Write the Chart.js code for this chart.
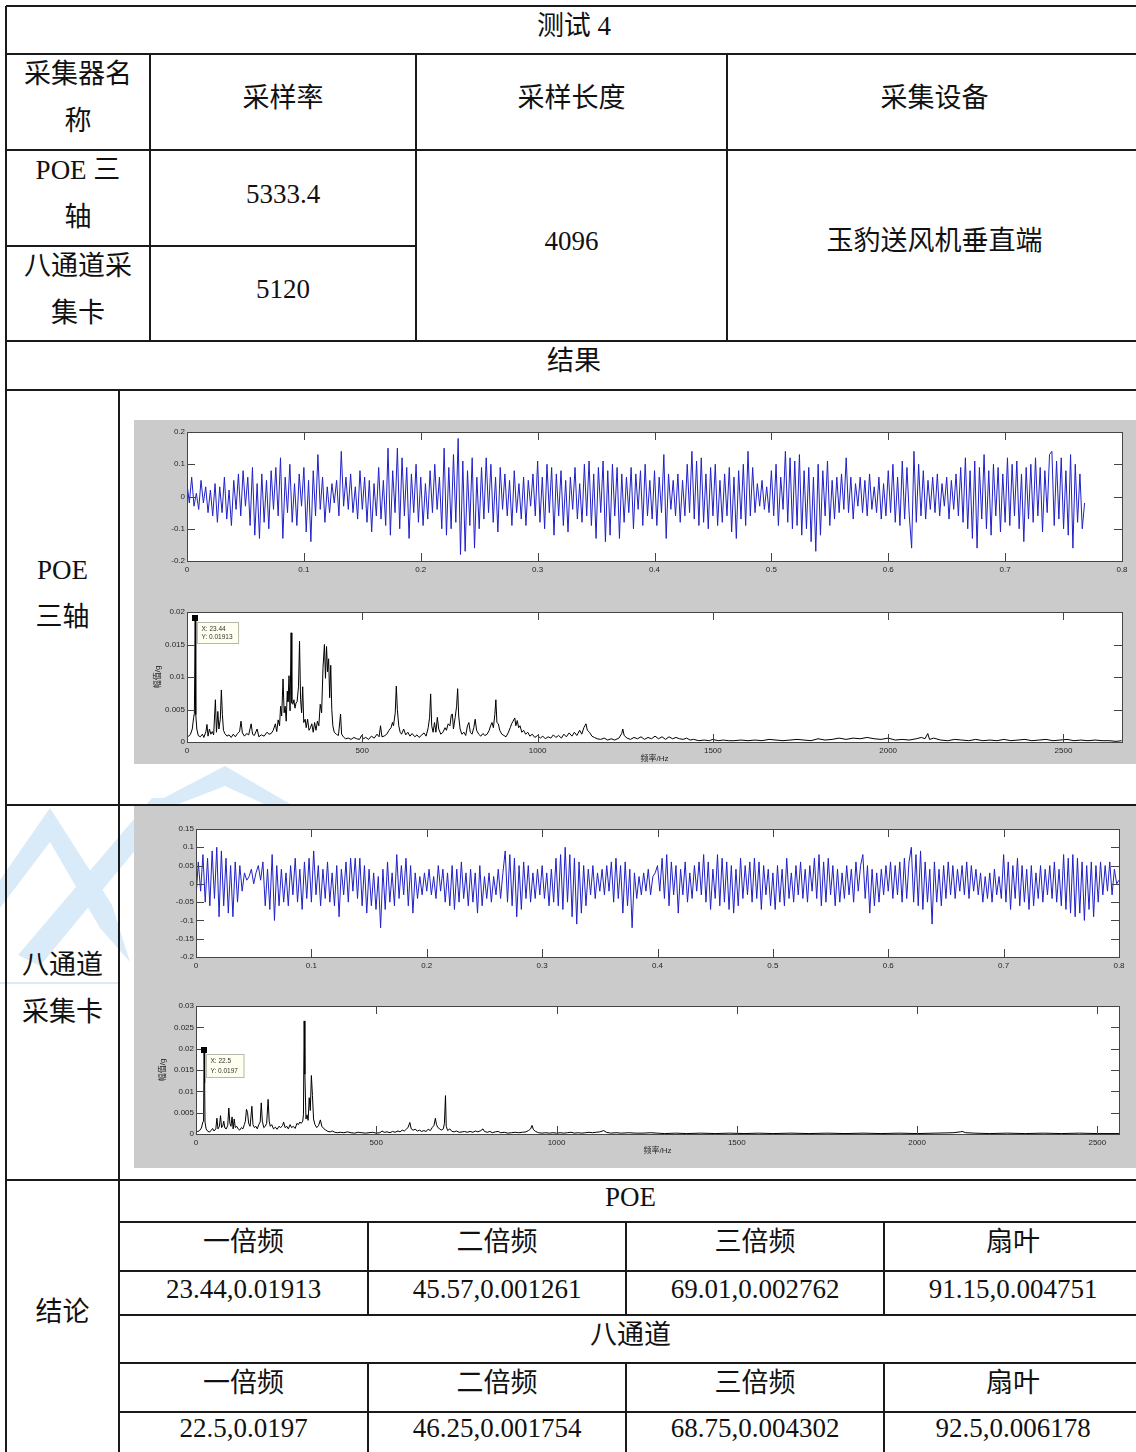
<!DOCTYPE html>
<html lang="zh-CN">
<head>
<meta charset="utf-8">
<title>测试 4</title>
<script src="https://cdn.jsdelivr.net/npm/chart.js@4.4.1/dist/chart.umd.min.js"></script>
<style>
  html, body { margin: 0; padding: 0; background: #fff; }
  body { width: 1136px; height: 1452px; overflow: hidden; position: relative;
         font-family: "Liberation Serif", "Noto Sans CJK SC", serif; color: #111; }
  .h, .v { position: absolute; background: #1a1a1a; z-index: 3; }
  .t { position: absolute; display: flex; align-items: center; justify-content: center;
       text-align: center; font-size: 27px; line-height: 47px; box-sizing: border-box;
       padding-bottom: 8px; z-index: 2; white-space: nowrap; }
  .panel { position: absolute; background: #cbcbcb; z-index: 1; }
  canvas { position: absolute; z-index: 2; }
  #mark { position: absolute; left: 0; top: 0; z-index: 0; }
</style>
</head>
<body>

<svg id="mark" width="1136" height="1452" viewBox="0 0 1136 1452">
  <g fill="#d9ebf9">
    <polygon points="0,880 50,808 112,905 130,962 100,928 50,842 0,908"/>
    <polygon points="18,955 152,798 178,798 40,966"/>
    <polygon points="150,805 225,766 292,805 266,805 225,786 176,805"/>
    <rect x="0" y="982" width="119" height="2"/>
  </g>
</svg>

<div class="panel" style="left:134px;top:420px;width:1010px;height:344px"></div>
<div class="panel" style="left:134px;top:806px;width:1010px;height:362px"></div>

<canvas id="poeWave" width="1002" height="172" style="left:134px;top:420px"></canvas>
<canvas id="poeSpec" width="1002" height="172" style="left:134px;top:592px"></canvas>
<canvas id="chWave" width="1002" height="180" style="left:134px;top:806px"></canvas>
<canvas id="chSpec" width="1002" height="182" style="left:134px;top:986px"></canvas>

<script>
// ---- data ----
const timeTicks = [0, 0.1, 0.2, 0.3, 0.4, 0.5, 0.6, 0.7, 0.8];
const freqTicks = [0, 500, 1000, 1500, 2000, 2500];
const poeWaveTicks = [-0.2, -0.1, 0, 0.1, 0.2];
const poeSpecTicks = [0, 0.005, 0.01, 0.015, 0.02];
const chWaveTicks = [-0.2, -0.15, -0.1, -0.05, 0, 0.05, 0.1, 0.15];
const chSpecTicks = [0, 0.005, 0.01, 0.015, 0.02, 0.025, 0.03];

const poeWaveStep = 1 / 500;   // s between plotted samples
const poeWave = [
  .04,-.02,.06,-.03,.01,-.04,.05,-.02,.03,-.05,
  .02,-.06,.04,-.08,.03,-.05,.06,-.07,.02,-.09,
  .05,-.04,.07,-.06,.08,-.03,.06,-.09,.09,-.12,
  .04,-.13,.07,-.08,.05,-.10,.08,-.04,.09,-.06,
  .12,-.13,.06,-.05,.10,-.08,.04,-.09,.07,-.03,
  .09,-.11,.05,-.14,.08,-.06,.13,-.04,.06,-.08,
  .03,-.05,.04,-.02,.05,-.06,.14,-.03,.06,-.04,
  .07,-.05,.03,-.07,.08,-.04,.06,-.08,.05,-.11,
  .04,-.06,.09,-.07,.05,-.09,.15,-.12,.08,-.05,
  .15,-.10,.12,-.06,.09,-.13,.07,-.05,.10,-.08,
  .06,-.09,.04,-.07,.08,-.05,.10,-.04,.06,-.10,
  .15,-.12,.09,-.10,.13,-.08,.18,-.18,.11,-.17,
  .08,-.09,.12,-.16,.06,-.10,.09,-.07,.12,-.05,
  .10,-.08,.06,-.11,.09,-.04,.07,-.06,.05,-.09,
  .08,-.05,.04,-.07,.06,-.09,.05,-.03,.07,-.06,
  .11,-.08,.06,-.10,.10,-.05,.09,-.12,.07,-.06,
  .08,-.09,.05,-.11,.06,-.04,.09,-.07,.04,-.08,
  .10,-.06,.11,-.09,.07,-.13,.09,-.05,.11,-.14,
  .08,-.12,.10,-.06,.09,-.13,.07,-.08,.06,-.05,
  .09,-.10,.07,-.04,.08,-.09,.10,-.06,.05,-.07,
  .08,-.09,.06,-.05,.13,-.13,.07,-.04,.05,-.06,
  .07,-.08,.05,-.06,.10,-.05,.14,-.07,.11,-.09,
  .12,-.08,.07,-.10,.09,-.06,.10,-.09,.05,-.08,
  .07,-.06,.09,-.11,.06,-.13,.08,-.07,.10,-.09,
  .14,-.06,.09,-.05,.04,-.03,.05,-.04,.03,-.05,
  .08,-.06,.10,-.09,.06,-.04,.14,-.08,.12,-.10,
  .11,-.09,.13,-.12,.08,-.10,.09,-.14,.06,-.17,
  .10,-.12,.08,-.06,.11,-.09,.05,-.07,.06,-.05,
  .07,-.04,.12,-.05,.06,-.07,.04,-.03,.06,-.05,
  .05,-.06,.07,-.04,.03,-.05,.06,-.07,.04,-.06,
  .08,-.05,.10,-.08,.06,-.09,.11,-.07,.09,-.06,
  -.16,.14,-.08,.10,-.06,.08,-.07,.05,-.04,.06,
  -.05,.07,-.06,.04,-.03,.06,-.07,.05,-.04,.07,
  -.06,.09,-.08,.12,-.10,.08,-.13,.11,-.16,.09,
  -.07,.13,-.10,.08,-.12,.10,-.06,.09,-.11,.07,
  -.08,.12,-.09,.10,-.06,.11,-.10,.07,-.14,.09,
  -.07,.10,-.08,.12,-.06,.09,-.11,.08,-.05,.13,
  .14,-.09,.11,-.07,.12,-.10,.08,-.12,.13,-.16,
  .10,-.08,.07,-.10,-.02
];

const chWaveStep = 1 / 500;
const chWave = [
  -.04,.06,-.02,.08,-.05,.07,-.06,.09,-.04,.10,
  -.09,.09,-.06,.07,-.08,.05,-.09,.06,-.05,.05,
  -.02,.03,.01,.02,.04,.00,.03,.05,.01,.06,
  -.06,.04,-.07,.08,-.10,.05,-.06,.04,-.05,.03,
  -.06,.05,-.03,.07,-.05,.04,-.07,.06,-.04,.07,
  -.05,.09,-.03,.05,-.06,.04,-.04,.06,-.05,.03,
  -.06,.05,-.09,.04,-.03,.06,-.05,.07,-.02,.07,
  -.04,.07,-.06,.05,-.08,.04,-.06,.03,-.07,.02,
  -.12,.04,-.07,.06,-.05,.03,-.06,.08,-.04,.05,
  -.03,.07,-.06,.05,-.08,.03,-.04,.02,-.03,.03,
  -.02,.04,-.03,.02,-.04,.05,-.02,.04,-.05,.03,
  -.06,.05,-.07,.04,-.05,.06,-.04,.03,-.06,.04,
  -.05,.03,-.08,.05,-.06,.02,-.04,.03,-.05,.02,
  -.03,.04,-.04,.03,.09,-.05,.08,-.06,.07,-.09,
  .05,-.07,.06,-.04,.05,-.05,.03,-.04,.04,-.03,
  .05,-.04,.03,-.06,.04,-.05,.07,-.06,.08,-.07,
  .10,-.05,.08,-.09,.07,-.11,.06,-.08,.05,-.06,
  .04,-.03,.05,-.04,.03,-.02,.04,-.03,.05,-.02,
  .06,-.05,.07,-.04,.05,-.08,.06,-.06,.04,-.12,
  .03,-.04,.02,-.03,.03,-.02,.04,-.03,.02,.03,
  .05,-.02,.07,-.04,.08,-.06,.06,-.03,.05,-.08,
  .04,-.03,.06,-.05,.03,-.04,.05,-.02,.06,-.03,
  .08,-.05,.06,-.07,.04,-.04,.08,-.06,.07,-.05,
  .06,-.07,.05,-.08,.04,-.06,.07,-.04,.05,-.03,
  .06,-.05,.07,-.04,.06,-.07,.05,-.03,.04,-.06,
  .03,-.07,.05,-.05,.04,-.06,.07,-.04,.03,-.05,
  .05,-.03,.06,-.04,.04,-.05,.05,-.02,.07,-.04,
  .08,-.06,.06,-.05,.07,-.03,.05,-.06,.04,-.05,
  .03,-.04,.05,-.03,.04,-.05,.06,-.02,.05,.08,
  -.04,.05,-.08,.04,-.06,.03,-.05,.04,-.03,.05,
  -.02,.06,-.04,.05,-.03,.06,-.05,.07,-.04,.06,
  .10,-.05,.08,-.06,.09,-.07,.06,-.05,.04,-.11,
  .06,-.05,.04,-.06,.05,-.04,.06,-.03,.05,-.04,
  .04,-.02,.05,-.03,.06,-.04,.05,-.02,.04,-.03,
  .03,-.05,.02,-.04,.03,-.05,.04,-.03,.02,-.04,
  .08,-.05,.06,-.07,.05,-.04,.07,-.06,.05,-.05,
  .04,-.07,.05,-.06,.03,-.04,.05,-.05,.04,-.03,
  .05,-.04,.06,-.05,.04,-.06,.08,-.07,.07,-.08,
  .08,-.09,.07,-.08,.06,-.10,.05,-.07,.06,-.09,
  .05,-.05,.06,-.03,.05,-.02,.06,-.03,.04,.00,
  .01
];

// [frequency Hz, amplitude g]
const poeSpectrum = [
  [0,.0008],[5,.0009],[10,.0012],[15,.002],[19,.0038],[21,.0044],[23.44,.01913],[25,.0042],[28,.002],
  [32,.001],[38,.0008],[44,.0012],[48,.0007],[54,.0016],[57,.0027],[60,.0009],[64,.002],[68,.0012],
  [72,.0016],[76,.0011],[81,.0065],[84,.0015],[88,.0047],[91,.002],[95,.0035],[98,.008],[101,.0042],
  [104,.0018],[108,.0013],[114,.0009],[120,.0011],[126,.0007],[132,.0012],[138,.0008],[144,.0013],
  [150,.0016],[154,.0032],[158,.0014],[164,.0009],[170,.0013],[176,.0011],[183,.0028],[187,.0012],
  [192,.001],[200,.002],[205,.0008],[212,.0011],[220,.0009],[228,.0015],[234,.0012],[240,.0013],
  [246,.0018],[252,.0028],[256,.0016],[260,.0034],[264,.0025],[267,.0055],[270,.004],[274,.0097],
  [277,.0045],[280,.0055],[283,.0032],[286,.0078],[288,.0062],[291,.0102],[294,.0048],[297,.0168],
  [299,.006],[302,.0058],[305,.0065],[308,.0052],[311,.006],[314,.0062],[318,.0085],[321,.0155],
  [324,.0065],[327,.0045],[330,.0085],[333,.003],[337,.0035],[340,.0022],[344,.0035],[348,.0018],
  [352,.0022],[356,.0028],[360,.0015],[364,.003],[368,.0018],[372,.0032],[376,.0025],[380,.0058],
  [384,.0045],[388,.0115],[392,.015],[395,.0098],[398,.0147],[401,.0108],[404,.0128],[407,.0068],
  [410,.0118],[413,.005],[416,.0025],[420,.0015],[426,.0012],[432,.001],[438,.0043],[441,.0012],
  [446,.0008],[452,.0005],[460,.0006],[468,.0004],[476,.0007],[484,.0005],[492,.0004],[498,.001],
  [503,.0005],[510,.0007],[518,.0004],[526,.0009],[534,.0006],[542,.0012],[548,.0008],[552,.0025],
  [556,.0008],[562,.0009],[570,.0012],[576,.0018],[582,.0022],[586,.003],[589,.0025],[594,.0045],
  [597,.0086],[600,.005],[604,.0025],[608,.0015],[612,.0012],[618,.002],[624,.0011],[630,.0015],
  [636,.0009],[642,.0013],[650,.0008],[656,.0011],[662,.0007],[668,.001],[676,.0014],[682,.0009],
  [688,.0022],[692,.0038],[695,.0074],[698,.0025],[702,.0015],[706,.003],[710,.0015],[714,.0038],
  [718,.002],[724,.0012],[730,.0015],[736,.0022],[740,.0018],[745,.0028],[750,.0025],[754,.0042],
  [757,.0043],[760,.002],[765,.0038],[769,.0055],[772,.0082],[775,.004],[779,.002],[784,.0012],
  [790,.0015],[795,.001],[800,.0025],[804,.003],[808,.0015],[813,.0012],[818,.0022],[822,.0035],
  [826,.0018],[832,.0012],[838,.0009],[844,.0013],[850,.001],[856,.0012],[862,.0018],[866,.0025],
  [870,.003],[874,.0022],[878,.0042],[881,.0065],[884,.003],[888,.0028],[892,.0018],[898,.0012],
  [904,.001],[910,.0008],[916,.0014],[922,.0022],[926,.0028],[930,.0032],[935,.0037],[938,.0025],
  [942,.0033],[946,.0022],[950,.0025],[955,.0015],[960,.0018],[966,.0012],[972,.0015],[978,.0009],
  [985,.0012],[992,.0007],[1000,.001],[1008,.0006],[1015,.0009],[1022,.0005],[1030,.0008],
  [1038,.0006],[1045,.0011],[1052,.0007],[1060,.001],[1068,.0006],[1075,.0012],[1082,.0008],
  [1090,.0014],[1098,.0009],[1105,.0015],[1112,.001],[1120,.0018],[1126,.0012],[1132,.0022],
  [1138,.0028],[1142,.0018],[1148,.0015],[1155,.0009],[1162,.0007],[1170,.0005],[1180,.0004],
  [1190,.0006],[1200,.0003],[1210,.0005],[1220,.0003],[1232,.0006],[1240,.0013],[1243,.002],
  [1247,.001],[1255,.0006],[1265,.0004],[1275,.0007],[1285,.0005],[1295,.0008],[1305,.0004],
  [1315,.0007],[1325,.0005],[1335,.0009],[1345,.0005],[1355,.0008],[1365,.0004],[1375,.0008],
  [1385,.0005],[1395,.0007],[1405,.0005],[1415,.0004],[1425,.0006],[1435,.0003],[1445,.0004],
  [1460,.0002],[1475,.0003],[1490,.0002],[1500,.0004],[1515,.0002],[1530,.0003],[1545,.0002],
  [1560,.0002],[1580,.0003],[1600,.0002],[1620,.0003],[1640,.0002],[1660,.0004],[1680,.0003],
  [1700,.0002],[1720,.0003],[1740,.0004],[1760,.0003],[1780,.0002],[1800,.0005],[1820,.0003],
  [1840,.0004],[1860,.0006],[1880,.0004],[1900,.0006],[1920,.0005],[1940,.0007],[1960,.0005],
  [1980,.0004],[2000,.0006],[2020,.0003],[2040,.0004],[2060,.0003],[2080,.0005],[2095,.0007],
  [2105,.0005],[2113,.0013],[2118,.0004],[2130,.0006],[2150,.0003],[2170,.0002],[2190,.0004],
  [2210,.0003],[2230,.0002],[2250,.0004],[2270,.0002],[2290,.0003],[2310,.0002],[2330,.0004],
  [2350,.0002],[2370,.0003],[2390,.0004],[2410,.0002],[2430,.0003],[2450,.0004],[2470,.0002],
  [2490,.0003],[2510,.0004],[2530,.0002],[2550,.0003],[2570,.0002],[2590,.0003],[2610,.0002],
  [2630,.0002],[2650,.0001],[2666,.0002]
];

const chSpectrum = [
  [0,.0006],[5,.0006],[10,.0008],[15,.0014],[19,.0028],[21,.003],[22.5,.0197],[24,.012],[25,.0028],
  [28,.0012],[33,.0006],[38,.0005],[42,.0008],[46,.0013],[50,.0007],[55,.0012],[58,.0037],[61,.0012],
  [65,.0018],[68,.0043],[71,.0015],[74,.0018],[77,.003],[80,.0014],[84,.0012],[88,.002],[91,.0061],
  [94,.0025],[97,.0018],[100,.004],[103,.0012],[106,.0035],[109,.0015],[113,.0018],[117,.0012],
  [121,.0009],[126,.0015],[130,.0012],[134,.0022],[137,.003],[140,.0058],[143,.005],[146,.0025],
  [150,.0018],[155,.0065],[158,.0022],[162,.0015],[166,.0018],[170,.0012],[174,.0022],[178,.0028],
  [181,.0073],[184,.003],[188,.0015],[192,.0018],[196,.0025],[200,.0081],[203,.003],[206,.0018],
  [210,.0022],[215,.0012],[220,.0016],[225,.0011],[230,.0018],[235,.0015],[240,.002],[243,.0028],
  [247,.0015],[252,.0018],[256,.0012],[261,.0022],[265,.0015],[270,.0018],[275,.0013],[280,.0025],
  [284,.0022],[288,.0028],[292,.0025],[296,.003],[298,.0045],[300,.0265],[302,.014],[305,.0035],
  [308,.0045],[311,.0032],[314,.0085],[317,.0055],[320,.0137],[323,.009],[326,.0035],[330,.0022],
  [335,.0015],[340,.002],[345,.0033],[349,.0018],[354,.0013],[360,.0009],[366,.0006],[372,.0005],
  [378,.0007],[385,.0004],[392,.0003],[400,.0004],[410,.0003],[420,.0005],[430,.0003],[440,.0002],
  [450,.0004],[460,.0003],[470,.0002],[480,.0003],[490,.0004],[500,.0002],[510,.0003],[516,.0007],
  [522,.0004],[530,.0005],[538,.0003],[545,.0006],[552,.0004],[560,.0007],[566,.0005],[572,.0009],
  [578,.0007],[584,.0012],[588,.0015],[593,.0027],[597,.0012],[602,.0009],[608,.0011],[614,.0007],
  [620,.0009],[626,.0006],[632,.0008],[638,.0006],[644,.0011],[650,.0008],[655,.0015],[660,.002],
  [664,.0037],[667,.0022],[671,.0015],[676,.0012],[680,.0009],[686,.0012],[689,.0025],[692,.009],
  [694,.0018],[698,.0008],[704,.0012],[710,.0006],[716,.0005],[722,.0007],[730,.0004],[738,.0005],
  [745,.0006],[752,.0004],[760,.0006],[768,.0004],[775,.0007],[782,.0005],[790,.0008],[796,.0012],
  [800,.0006],[808,.0004],[815,.0006],[822,.0003],[830,.0005],[838,.0006],[845,.0003],[855,.0004],
  [865,.0002],[875,.0003],[885,.0004],[895,.0003],[905,.0004],[915,.0005],[922,.0008],[928,.0012],
  [932,.002],[936,.001],[942,.0006],[950,.0003],[960,.0002],[970,.0003],[980,.0002],[990,.0003],
  [1000,.0002],[1010,.0003],[1020,.0002],[1030,.0003],[1040,.0004],[1050,.0002],[1060,.0003],
  [1070,.0002],[1080,.0003],[1090,.0004],[1100,.0003],[1110,.0004],[1120,.0005],[1131,.0008],
  [1138,.0004],[1150,.0002],[1165,.0003],[1180,.0002],[1200,.0003],[1220,.0002],[1240,.0002],
  [1260,.0003],[1280,.0002],[1300,.0001],[1330,.0002],[1360,.0001],[1400,.0002],[1440,.0001],
  [1480,.0002],[1520,.0001],[1560,.0002],[1600,.0001],[1650,.0002],[1700,.0001],[1750,.0002],
  [1800,.0001],[1850,.0002],[1900,.0001],[1950,.0002],[2000,.0001],[2050,.0002],[2100,.0003],
  [2120,.0005],[2125,.0006],[2135,.0003],[2160,.0002],[2200,.0001],[2250,.0002],[2300,.0001],
  [2350,.0002],[2400,.0001],[2450,.0002],[2500,.0001],[2560,.0001]
];

const poeTip = [23.44, 0.01913];
const chTip = [22.5, 0.0197];

const resultHeads = ['一倍频', '二倍频', '三倍频', '扇叶'];
const poeResults = ['23.44,0.01913', '45.57,0.001261', '69.01,0.002762', '91.15,0.004751'];
const chResults = ['22.5,0.0197', '46.25,0.001754', '68.75,0.004302', '92.5,0.006178'];

// ---- table frame ----
const R = 1142; // right edge, just past the viewport
function hline(x1, x2, y) {
  const d = document.createElement('div');
  d.className = 'h';
  d.style.cssText = `left:${x1}px;top:${y - 0.75}px;width:${x2 - x1}px;height:1.5px`;
  document.body.appendChild(d);
}
function vline(x, y1, y2) {
  const d = document.createElement('div');
  d.className = 'v';
  d.style.cssText = `left:${x - 0.75}px;top:${y1}px;width:1.5px;height:${y2 - y1}px`;
  document.body.appendChild(d);
}
function text(x1, y1, x2, y2, html) {
  const d = document.createElement('div');
  d.className = 't';
  d.style.cssText = `left:${x1}px;top:${y1}px;width:${x2 - x1}px;height:${y2 - y1}px`;
  d.innerHTML = html;
  document.body.appendChild(d);
}

[6, 54, 150, 341, 390, 805, 1180].forEach(y => hline(6, R, y));
hline(6, 416, 246);
[1222, 1271, 1315, 1363, 1412].forEach(y => hline(119, R, y));
vline(6, 6, 1460);
[150, 416, 727].forEach(x => vline(x, 54, 341));
vline(119, 390, 1460);
[368, 626, 884].forEach(x => { vline(x, 1222, 1315); vline(x, 1363, 1460); });

text(6, 6, R, 54, '测试 4');
text(6, 54, 150, 150, '采集器名<br>称');
text(150, 54, 416, 150, '采样率');
text(416, 54, 727, 150, '采样长度');
text(727, 54, R, 150, '采集设备');
text(6, 150, 150, 246, 'POE 三<br>轴');
text(6, 246, 150, 341, '八通道采<br>集卡');
text(150, 150, 416, 246, '5333.4');
text(150, 246, 416, 341, '5120');
text(416, 150, 727, 341, '4096');
text(727, 150, R, 341, '玉豹送风机垂直端');
text(6, 341, R, 390, '结果');
text(6, 390, 119, 805, 'POE<br>三轴');
text(6, 805, 119, 1180, '八通道<br>采集卡');
text(6, 1180, 119, 1452, '结论');
text(119, 1180, R, 1222, 'POE');
text(119, 1315, R, 1363, '八通道');
const cols = [119, 368, 626, 884, R];
resultHeads.forEach((h, i) => {
  text(cols[i], 1222, cols[i + 1], 1271, h);
  text(cols[i], 1271, cols[i + 1], 1315, poeResults[i]);
  text(cols[i], 1363, cols[i + 1], 1412, h);
  text(cols[i], 1412, cols[i + 1], 1452, chResults[i]);
});

// ---- charts ----
Chart.defaults.font.family = '"Liberation Sans", "Noto Sans CJK SC", sans-serif';
Chart.defaults.font.size = 8;
Chart.defaults.color = '#262626';

// white axes, box and MATLAB-like inward ticks on all four sides
const matlabAxes = {
  id: 'matlabAxes',
  beforeDraw(chart) {
    const { ctx, chartArea: a } = chart;
    ctx.save();
    ctx.fillStyle = '#fff';
    ctx.fillRect(a.left, a.top, a.right - a.left, a.bottom - a.top);
    ctx.restore();
  },
  afterDatasetsDraw(chart) {
    const { ctx, chartArea: a, scales: { x, y } } = chart;
    const len = 8;
    ctx.save();
    ctx.strokeStyle = '#454545';
    ctx.lineWidth = 1;
    ctx.beginPath();
    x.ticks.forEach(t => {
      const px = Math.round(x.getPixelForValue(t.value)) + 0.5;
      ctx.moveTo(px, a.bottom); ctx.lineTo(px, a.bottom - len);
      ctx.moveTo(px, a.top); ctx.lineTo(px, a.top + len);
    });
    y.ticks.forEach(t => {
      const py = Math.round(y.getPixelForValue(t.value)) + 0.5;
      ctx.moveTo(a.left, py); ctx.lineTo(a.left + len, py);
      ctx.moveTo(a.right, py); ctx.lineTo(a.right - len, py);
    });
    ctx.stroke();
    ctx.strokeRect(Math.round(a.left) + 0.5, Math.round(a.top) + 0.5,
                   Math.round(a.right - a.left), Math.round(a.bottom - a.top));
    ctx.restore();
  }
};

// data cursor box like the MATLAB figure
const dataTip = {
  id: 'dataTip',
  afterDatasetsDraw(chart, args, opts) {
    if (!opts || !opts.at) return;
    const { ctx, scales: { x, y } } = chart;
    const px = x.getPixelForValue(opts.at[0]);
    const py = y.getPixelForValue(opts.at[1]);
    const lines = ['X: ' + opts.at[0], 'Y: ' + opts.at[1]];
    ctx.save();
    ctx.font = '6.5px "Liberation Sans", sans-serif';
    const w = Math.max(...lines.map(l => ctx.measureText(l).width)) + 10;
    const bx = Math.round(px + 2) + 0.5, by = Math.round(py + 4) + 0.5;
    ctx.fillStyle = '#fffff0';
    ctx.strokeStyle = '#b8b8a8';
    ctx.fillRect(bx, by, w, opts.h);
    ctx.strokeRect(bx, by, w, opts.h);
    ctx.fillStyle = '#333';
    ctx.textBaseline = 'middle';
    ctx.fillText(lines[0], bx + 4, by + opts.h * 0.3);
    ctx.fillText(lines[1], bx + 4, by + opts.h * 0.72);
    ctx.fillStyle = '#000';
    ctx.fillRect(Math.round(px) - 3, Math.round(py) - 3, 6, 6);
    ctx.restore();
  }
};

const fmt = v => String(+(+v).toFixed(4));

function plot(cfg) {
  return new Chart(document.getElementById(cfg.id), {
    type: 'line',
    data: {
      datasets: [{
        data: cfg.points,
        borderColor: cfg.color,
        borderWidth: 1,
        pointRadius: 0,
        tension: 0
      }]
    },
    options: {
      responsive: false,
      animation: false,
      events: [],
      layout: { padding: cfg.pad },
      plugins: {
        legend: { display: false },
        tooltip: { enabled: false },
        dataTip: cfg.tip ? { at: cfg.tip, h: cfg.tipH } : false
      },
      scales: {
        x: {
          type: 'linear', min: cfg.xMin, max: cfg.xMax,
          grid: { display: false, drawTicks: false },
          border: { display: false },
          ticks: { padding: 4, maxRotation: 0, autoSkip: false, callback: fmt },
          title: cfg.xTitle
            ? { display: true, text: cfg.xTitle, padding: { top: 0, bottom: cfg.xTitlePad } }
            : { display: false },
          afterBuildTicks: s => { s.ticks = cfg.xTicks.map(v => ({ value: v })); },
          afterFit: s => { s.height = cfg.xH; }
        },
        y: {
          type: 'linear', min: cfg.yMin, max: cfg.yMax,
          grid: { display: false, drawTicks: false },
          border: { display: false },
          ticks: { padding: 2, autoSkip: false, callback: fmt },
          title: cfg.yTitle
            ? { display: true, text: cfg.yTitle, padding: { top: cfg.yTitlePad, bottom: 0 } }
            : { display: false },
          afterBuildTicks: s => { s.ticks = cfg.yTicks.map(v => ({ value: v })); },
          afterFit: s => { s.width = cfg.yW; }
        }
      }
    },
    plugins: [matlabAxes, dataTip]
  });
}

const waveBlue = 'rgb(32,32,200)';

plot({
  id: 'poeWave',
  points: poeWave.map((v, i) => ({ x: i * poeWaveStep, y: v })),
  color: waveBlue,
  pad: { top: 12, right: 14, left: 0, bottom: 0 },
  xMin: 0, xMax: 0.8, xTicks: timeTicks, xH: 31,
  yMin: -0.2, yMax: 0.2, yTicks: poeWaveTicks, yW: 53
});

plot({
  id: 'poeSpec',
  points: poeSpectrum.map(([f, a]) => ({ x: f, y: a })),
  color: '#000',
  pad: { top: 20, right: 14, left: 0, bottom: 0 },
  xMin: 0, xMax: 2667, xTicks: freqTicks, xH: 22, xTitle: '频率/Hz', xTitlePad: 0,
  yMin: 0, yMax: 0.02, yTicks: poeSpecTicks, yW: 53, yTitle: '幅值/g', yTitlePad: 19,
  tip: poeTip, tipH: 21
});

plot({
  id: 'chWave',
  points: chWave.map((v, i) => ({ x: i * chWaveStep, y: v })),
  color: waveBlue,
  pad: { top: 23, right: 17, left: 0, bottom: 0 },
  xMin: 0, xMax: 0.8, xTicks: timeTicks, xH: 29,
  yMin: -0.2, yMax: 0.15, yTicks: chWaveTicks, yW: 62
});

plot({
  id: 'chSpec',
  points: chSpectrum.map(([f, a]) => ({ x: f, y: a })),
  color: '#000',
  pad: { top: 20, right: 17, left: 0, bottom: 0 },
  xMin: 0, xMax: 2560, xTicks: freqTicks, xH: 34, xTitle: '频率/Hz', xTitlePad: 12,
  yMin: 0, yMax: 0.03, yTicks: chSpecTicks, yW: 62, yTitle: '幅值/g', yTitlePad: 24,
  tip: chTip, tipH: 23
});
</script>
</body>
</html>
